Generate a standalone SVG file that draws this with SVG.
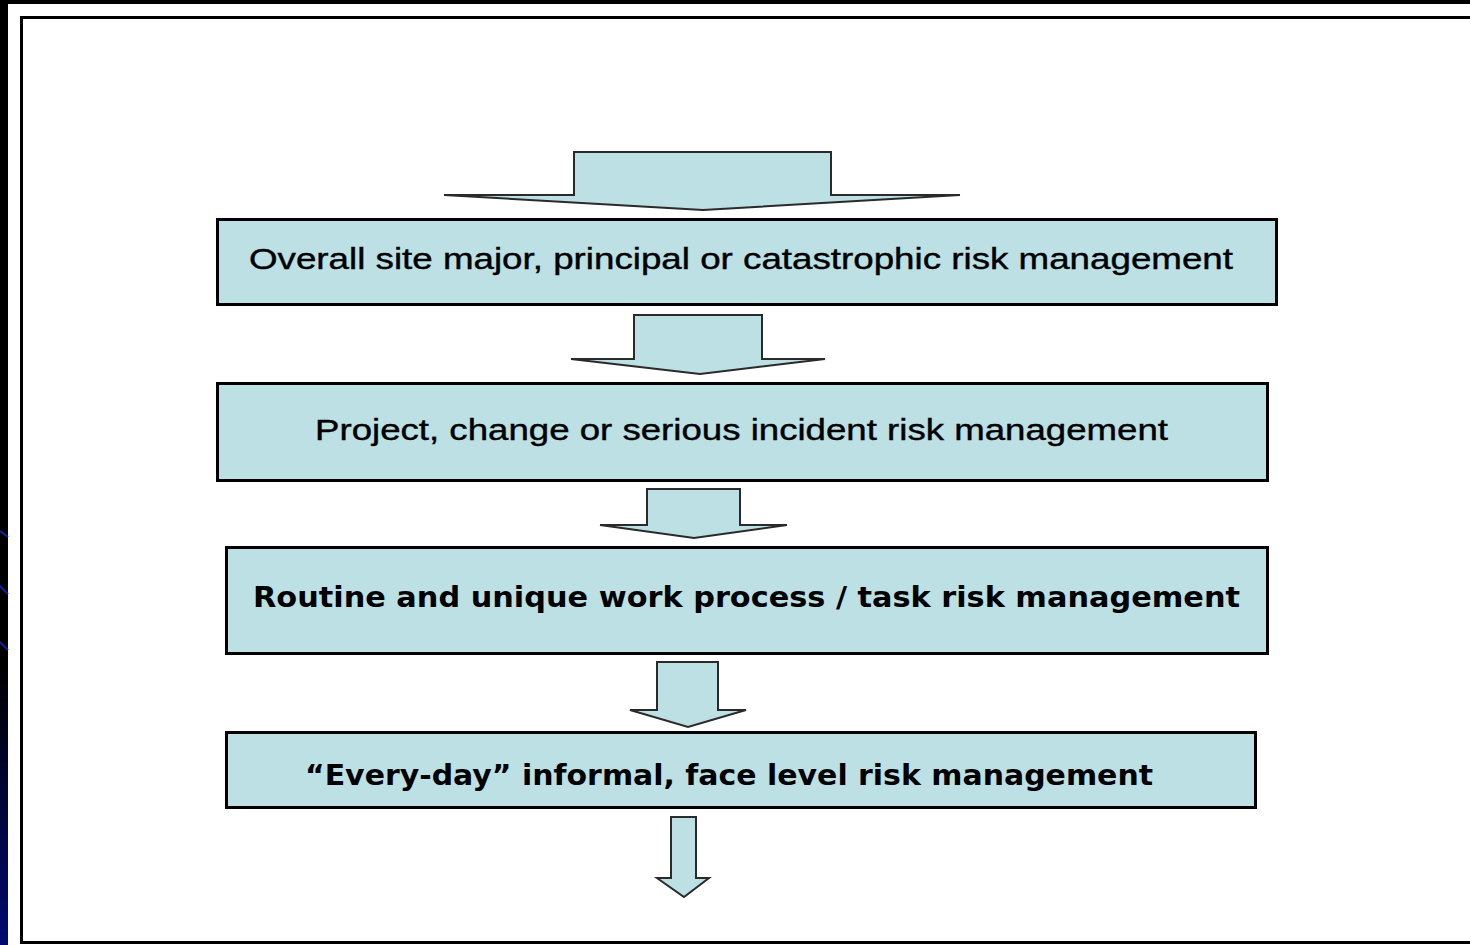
<svg xmlns="http://www.w3.org/2000/svg" width="1470" height="945" viewBox="0 0 1470 945">
<defs>
<linearGradient id="lg" x1="0" y1="0" x2="0" y2="1">
<stop offset="0" stop-color="#000"/>
<stop offset="0.7" stop-color="#000"/>
<stop offset="1" stop-color="#000a70"/>
</linearGradient>
<style>
.box{fill:#bce0e4;stroke:#000;stroke-width:3}
.arr{fill:#bce0e4;stroke:#2a2a2a;stroke-width:2;stroke-linejoin:miter}
.t1{font-family:"Liberation Sans",Arial,sans-serif;font-size:29px;fill:#000;stroke:#000;stroke-width:0.4}
.t2{font-family:"DejaVu Sans",Verdana,sans-serif;font-size:29px;font-weight:bold;fill:#000}
</style>
</defs>
<rect x="0" y="0" width="1470" height="945" fill="#fff"/>
<rect x="0" y="0" width="1470" height="4" fill="#000"/>
<rect x="0" y="0" width="8" height="945" fill="url(#lg)"/>
<g stroke="#1020a0" stroke-width="2">
<line x1="0" y1="531" x2="8" y2="537"/>
<line x1="0" y1="586" x2="8" y2="594"/>
<line x1="0" y1="642" x2="8" y2="650"/>
</g>
<rect x="21.5" y="17.5" width="1460" height="925" fill="#fff" stroke="#000" stroke-width="3"/>
<g id="connectors">
<polygon class="arr" points="574,152 831,152 831,195 960,195 703,210 444,195 574,195"/>
<polygon class="arr" points="634,315 762,315 762,359 825,359 700,374 571,359 634,359"/>
<polygon class="arr" points="647,489 740,489 740,525 787,525 694,538 600,525 647,525"/>
<polygon class="arr" points="657,662 718,662 718,710 746,710 688,727 630,710 657,710"/>
<polygon class="arr" points="671,817 696,817 696,878 709,878 684,897 657,878 671,878"/>
</g>
<g id="node1">
<rect class="box" x="217.5" y="219.5" width="1059" height="85"/>
<text class="t1" x="249" y="269" textLength="984" lengthAdjust="spacingAndGlyphs">Overall site major, principal or catastrophic risk management</text>
</g>
<g id="node2">
<rect class="box" x="217.5" y="383.5" width="1050" height="97"/>
<text class="t1" x="315" y="440" textLength="853" lengthAdjust="spacingAndGlyphs">Project, change or serious incident risk management</text>
</g>
<g id="node3">
<rect class="box" x="226.5" y="547.5" width="1041" height="106"/>
<text class="t2" x="253" y="607" textLength="987" lengthAdjust="spacingAndGlyphs">Routine and unique work process / task risk management</text>
</g>
<g id="node4">
<rect class="box" x="226.5" y="732.5" width="1029" height="75"/>
<text class="t2" x="305" y="785" textLength="848" lengthAdjust="spacingAndGlyphs">“Every-day” informal, face level risk management</text>
</g>
</svg>
